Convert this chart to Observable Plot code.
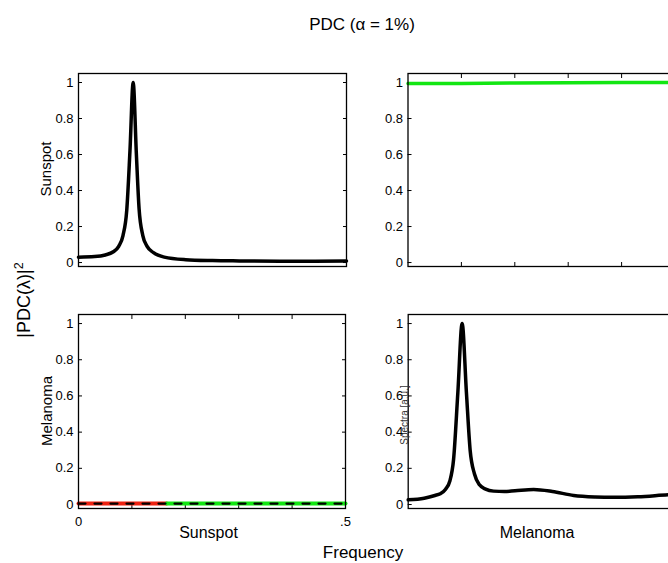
<!DOCTYPE html>
<html><head><meta charset="utf-8">
<script src="https://cdn.jsdelivr.net/npm/d3@7"></script>
<script src="https://cdn.jsdelivr.net/npm/@observablehq/plot@0.6"></script>
<style>
html,body{margin:0;padding:0;background:#fff;overflow:hidden}
#fig{position:relative;width:668px;height:563px;overflow:hidden;font-family:"Liberation Sans",Arial,Helvetica,sans-serif;color:#000;background:#fff}
.p{position:absolute}
.t{position:absolute;white-space:nowrap;transform:translate(-50%,-50%);line-height:1}
.r{transform:translate(-50%,-50%) rotate(-90deg)}
sup{font-size:0.7em;vertical-align:0.55em;line-height:0}
</style></head><body><div id="fig"></div>
<script>
// ---- data ----
const titleText = "PDC (α = 1%)";
const channels = ["Sunspot", "Melanoma"];
const yTicks = [0, 0.2, 0.4, 0.6, 0.8, 1];
const xInnerTicks = [0.1, 0.2, 0.3, 0.4];
const xEndTicks = [0, 0.5];
const xEndLabels = ["0", ".5"];

// Sunspot spectrum (diagonal, top-left)
const freqSunspot = [0, 0.03, 0.05, 0.065, 0.075, 0.083, 0.09, 0.096, 0.102, 0.108, 0.113, 0.12, 0.128, 0.14, 0.16, 0.2, 0.25, 0.3, 0.4, 0.5];
const sunspotSpec = [0.03, 0.033, 0.042, 0.06, 0.09, 0.15, 0.29, 0.62, 1.0, 0.6, 0.3, 0.15, 0.09, 0.055, 0.03, 0.016, 0.011, 0.009, 0.007, 0.008];

// Melanoma spectrum (diagonal, bottom-right)
const freqMelanoma = [0, 0.03, 0.05, 0.06, 0.07, 0.078, 0.085, 0.093, 0.101, 0.109, 0.116, 0.124, 0.133, 0.145, 0.16, 0.18, 0.2, 0.235, 0.27, 0.31, 0.35, 0.385, 0.43, 0.487, 0.5];
const melanomaSpec = [0.026, 0.035, 0.05, 0.06, 0.085, 0.13, 0.25, 0.62, 1.0, 0.62, 0.3, 0.17, 0.11, 0.085, 0.074, 0.072, 0.076, 0.083, 0.072, 0.05, 0.042, 0.04, 0.043, 0.054, 0.056];

// Melanoma -> Sunspot PDC (top-right), significant
const freqMelToSun = [0, 0.1, 0.2, 0.3, 0.4, 0.5];
const pdcMelToSun = [0.995, 0.995, 0.997, 0.999, 1.0, 1.0];

// Sunspot -> Melanoma PDC (bottom-left): not significant part, significant part, threshold
const freqSunToMelNS = [0, 0.08, 0.165];
const pdcSunToMelNS = [0.005, 0.005, 0.005];
const freqSunToMelSig = [0.165, 0.3, 0.5];
const pdcSunToMelSig = [0.005, 0.005, 0.005];
const freqThreshold = [0, 0.25, 0.5];
const threshold = [0.005, 0.005, 0.005];

// ---- build ----
const fig = document.getElementById("fig");
const zip = (xs, ys) => xs.map((x, i) => ({x, y: ys[i]}));
const FONT = '"Liberation Sans", Arial, Helvetica, sans-serif';

function panel({left, top, width, height, mL, mR, mT, mB, marks, topTicks, bottomTicks, endLabels, rightTicks}) {
  const m = [];
  m.push(Plot.axisY({anchor: "left", ticks: yTicks, tickSize: 0, tickPadding: 5, tickFormat: d => String(d), label: null}));
  m.push(Plot.axisY({anchor: "left", ticks: yTicks, tickSize: -4, fill: "none", label: null}));
  if (rightTicks) m.push(Plot.axisY({anchor: "right", ticks: yTicks, tickSize: -4, fill: "none", label: null}));
  if (topTicks) m.push(Plot.axisX({anchor: "top", ticks: xInnerTicks, tickSize: -4, fill: "none", label: null}));
  if (bottomTicks) m.push(Plot.axisX({anchor: "bottom", ticks: xInnerTicks, tickSize: -4, fill: "none", label: null}));
  if (endLabels) m.push(Plot.axisX({anchor: "bottom", ticks: xEndTicks, tickSize: 0, tickPadding: 8, tickFormat: d => xEndLabels[xEndTicks.indexOf(d)], label: null}));
  m.push(...marks);
  m.push(Plot.frame({stroke: "black", strokeWidth: 1.3}));
  const svg = Plot.plot({
    width, height, marginLeft: mL, marginRight: mR, marginTop: mT, marginBottom: mB,
    x: {domain: [0, 0.5], axis: null},
    y: {domain: [-0.022, 1.05], axis: null},
    style: {fontFamily: FONT, fontSize: "13px", color: "black", background: "transparent", overflow: "visible"},
    marks: m
  });
  svg.classList.add("p");
  svg.style.left = left + "px";
  svg.style.top = top + "px";
  fig.appendChild(svg);
}

const blackLine = (xs, ys) => Plot.line(zip(xs, ys), {x: "x", y: "y", stroke: "black", strokeWidth: 3.5, curve: "monotone-x", strokeLinejoin: "round"});

// top-left: Sunspot spectrum
panel({left: 0, top: 60, width: 360, height: 220, mL: 78, mR: 14, mT: 13, mB: 14,
  rightTicks: true,
  marks: [blackLine(freqSunspot, sunspotSpec)]});

// top-right: Melanoma -> Sunspot
panel({left: 340, top: 60, width: 340, height: 220, mL: 67.5, mR: 5.5, mT: 13, mB: 14,
  topTicks: true, bottomTicks: true, rightTicks: true,
  marks: [Plot.line(zip(freqMelToSun, pdcMelToSun), {x: "x", y: "y", stroke: "#12e612", strokeWidth: 3.5})]});

// bottom-left: Sunspot -> Melanoma
panel({left: 0, top: 300, width: 360, height: 240, mL: 78, mR: 15, mT: 14, mB: 32,
  topTicks: true, bottomTicks: true, rightTicks: true, endLabels: true,
  marks: [
    Plot.line(zip(freqSunToMelNS, pdcSunToMelNS), {x: "x", y: "y", stroke: "#ee2211", strokeWidth: 4}),
    Plot.line(zip(freqSunToMelSig, pdcSunToMelSig), {x: "x", y: "y", stroke: "#12e612", strokeWidth: 4}),
    Plot.line(zip(freqThreshold, threshold), {x: "x", y: "y", stroke: "black", strokeWidth: 2.2, strokeDasharray: "7,9"})
  ]});

// bottom-right: Melanoma spectrum
panel({left: 340, top: 300, width: 340, height: 240, mL: 67.7, mR: 5.3, mT: 14, mB: 32,
  marks: [blackLine(freqMelanoma, melanomaSpec)]});

// ---- texts ----
function addText(html, x, y, size, rotate, extra) {
  const d = document.createElement("div");
  d.className = "t" + (rotate ? " r" : "");
  d.innerHTML = html;
  d.style.left = x + "px";
  d.style.top = y + "px";
  d.style.fontSize = size + "px";
  if (extra) Object.assign(d.style, extra);
  fig.appendChild(d);
}
addText(titleText, 362, 24, 17);
addText(channels[0], 45, 169, 15, true);
addText(channels[1], 46, 411, 15, true);
addText("|PDC(λ)|<sup>2</sup>", 24, 300, 18, true);
addText(channels[0], 208.5, 533, 16);
addText(channels[1], 537, 533, 16);
addText("Frequency", 363, 552, 17);
addText("Spectra [a.u.]", 405, 415, 10, true, {color: "#333"});
</script>
</body></html>
